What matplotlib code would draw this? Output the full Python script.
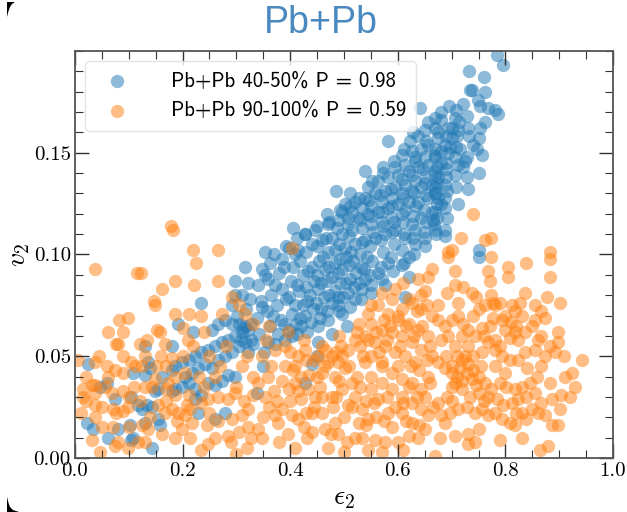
import numpy as np
import matplotlib
matplotlib.use("Agg")
import matplotlib.pyplot as plt
from matplotlib.patches import Polygon

plt.rcParams["mathtext.fontset"] = "cm"

# (epsilon_2, v_2) samples for the two centrality classes
blue_points = [
    # low-eccentricity tail
    (0.025, 0.046), (0.022, 0.017), (0.034, 0.014), (0.062, 0.010), (0.080, 0.014),
    (0.105, 0.009), (0.108, 0.010), (0.143, 0.005), (0.074, 0.029), (0.105, 0.030),
    (0.118, 0.026), (0.124, 0.024), (0.133, 0.026), (0.143, 0.025), (0.130, 0.017),
    (0.155, 0.019), (0.158, 0.016), (0.102, 0.016), (0.059, 0.037), (0.046, 0.035),
    (0.108, 0.042), (0.136, 0.047), (0.139, 0.044), (0.130, 0.041), (0.161, 0.040),
    (0.155, 0.034), (0.149, 0.033), (0.180, 0.033), (0.186, 0.034), (0.130, 0.055),
    (0.180, 0.055), (0.192, 0.066), (0.220, 0.062), (0.235, 0.076), (0.254, 0.063),
    (0.266, 0.066), (0.279, 0.068), (0.291, 0.075), (0.297, 0.080), (0.310, 0.080),
    (0.316, 0.094), (0.297, 0.087), (0.322, 0.086),
    (0.180, 0.043), (0.186, 0.045), (0.198, 0.047), (0.211, 0.048), (0.223, 0.050),
    (0.235, 0.052), (0.248, 0.053), (0.260, 0.055), (0.273, 0.057), (0.285, 0.058),
    (0.297, 0.060), (0.310, 0.062), (0.322, 0.063), (0.328, 0.066), (0.316, 0.065),
    (0.304, 0.066), (0.291, 0.066), (0.204, 0.040), (0.217, 0.042), (0.229, 0.044),
    (0.242, 0.046), (0.254, 0.044), (0.266, 0.048), (0.279, 0.050), (0.291, 0.052),
    (0.304, 0.055), (0.316, 0.057), (0.328, 0.058), (0.198, 0.035), (0.211, 0.037),
    (0.223, 0.034), (0.235, 0.031), (0.248, 0.037), (0.260, 0.036), (0.273, 0.038),
    (0.285, 0.041), (0.297, 0.040), (0.223, 0.029), (0.229, 0.022), (0.260, 0.019),
    (0.279, 0.022), (0.302, 0.070), (0.318, 0.073), (0.326, 0.078), (0.312, 0.064),
    (0.330, 0.056), (0.322, 0.052), (0.308, 0.058),
    # middle of the band
    (0.620, 0.089), (0.607, 0.095), (0.620, 0.099), (0.551, 0.081), (0.613, 0.079),
    (0.576, 0.085), (0.496, 0.071), (0.505, 0.065), (0.477, 0.061), (0.452, 0.057),
    (0.449, 0.050), (0.440, 0.046), (0.428, 0.037), (0.350, 0.045), (0.338, 0.032),
    (0.403, 0.060), (0.412, 0.061), (0.421, 0.065), (0.455, 0.069), (0.489, 0.075),
    (0.520, 0.078), (0.533, 0.083), (0.539, 0.088), (0.564, 0.091), (0.582, 0.096),
    (0.342, 0.061), (0.338, 0.069), (0.345, 0.077), (0.341, 0.085), (0.347, 0.093),
    (0.358, 0.057), (0.362, 0.065), (0.356, 0.072), (0.364, 0.080), (0.359, 0.088),
    (0.363, 0.096), (0.378, 0.061), (0.383, 0.068), (0.376, 0.075), (0.385, 0.083),
    (0.379, 0.091), (0.384, 0.098), (0.398, 0.063), (0.404, 0.071), (0.397, 0.079),
    (0.402, 0.087), (0.405, 0.094), (0.418, 0.069), (0.423, 0.075), (0.417, 0.082),
    (0.424, 0.090), (0.419, 0.097), (0.438, 0.067), (0.443, 0.073), (0.436, 0.080),
    (0.445, 0.087), (0.441, 0.094), (0.458, 0.073), (0.463, 0.079), (0.457, 0.086),
    (0.464, 0.093), (0.461, 0.099), (0.478, 0.076), (0.484, 0.082), (0.477, 0.089),
    (0.483, 0.096), (0.498, 0.079), (0.503, 0.086), (0.497, 0.093), (0.504, 0.099),
    (0.518, 0.084), (0.523, 0.091), (0.517, 0.097), (0.538, 0.093), (0.543, 0.099),
    # dense core of the band
    (0.351, 0.052), (0.348, 0.074), (0.353, 0.090),
    (0.372, 0.056), (0.368, 0.070), (0.371, 0.085), (0.369, 0.100),
    (0.391, 0.058), (0.388, 0.066), (0.392, 0.078), (0.389, 0.094), (0.393, 0.104),
    (0.411, 0.066), (0.408, 0.075), (0.412, 0.085), (0.409, 0.100), (0.413, 0.108),
    (0.431, 0.062), (0.428, 0.070), (0.432, 0.077), (0.429, 0.084), (0.433, 0.092),
    (0.430, 0.101), (0.427, 0.110),
    (0.451, 0.065), (0.448, 0.076), (0.452, 0.083), (0.449, 0.090), (0.453, 0.097),
    (0.450, 0.104), (0.447, 0.112),
    (0.471, 0.068), (0.468, 0.072), (0.472, 0.080), (0.469, 0.087), (0.473, 0.094),
    (0.470, 0.101), (0.467, 0.108), (0.472, 0.116),
    (0.491, 0.072), (0.488, 0.079), (0.492, 0.086), (0.489, 0.091), (0.493, 0.098),
    (0.490, 0.105), (0.487, 0.113), (0.492, 0.122),
    (0.511, 0.074), (0.508, 0.081), (0.512, 0.088), (0.509, 0.095), (0.513, 0.101),
    (0.510, 0.109), (0.507, 0.115), (0.512, 0.124),
    (0.531, 0.078), (0.528, 0.086), (0.532, 0.094), (0.529, 0.100), (0.533, 0.106),
    (0.530, 0.117), (0.527, 0.128),
    (0.551, 0.085), (0.548, 0.090), (0.552, 0.097), (0.549, 0.104), (0.553, 0.111),
    (0.550, 0.119), (0.547, 0.127), (0.552, 0.136),
    (0.571, 0.088), (0.568, 0.094), (0.572, 0.101), (0.569, 0.107), (0.573, 0.114),
    (0.570, 0.121), (0.567, 0.129), (0.572, 0.140),
    (0.591, 0.092), (0.588, 0.099), (0.592, 0.105), (0.589, 0.111), (0.593, 0.116),
    (0.590, 0.124), (0.587, 0.132), (0.592, 0.146),
    (0.611, 0.096), (0.608, 0.102), (0.612, 0.110), (0.609, 0.116), (0.613, 0.122),
    (0.610, 0.128), (0.607, 0.137), (0.612, 0.152),
    (0.631, 0.100), (0.628, 0.108), (0.632, 0.112), (0.629, 0.119), (0.633, 0.124),
    (0.630, 0.130), (0.627, 0.139), (0.632, 0.148), (0.629, 0.160),
    (0.651, 0.104), (0.648, 0.111), (0.652, 0.116), (0.649, 0.122), (0.653, 0.129),
    (0.650, 0.135), (0.647, 0.142), (0.652, 0.156),
    (0.671, 0.110), (0.668, 0.115), (0.672, 0.125), (0.669, 0.133), (0.673, 0.143),
    (0.670, 0.152),
    (0.691, 0.118), (0.688, 0.123), (0.692, 0.131), (0.689, 0.138), (0.693, 0.150),
    (0.690, 0.158),
    (0.711, 0.125), (0.708, 0.133), (0.712, 0.144), (0.709, 0.153), (0.713, 0.165),
    (0.731, 0.132), (0.728, 0.148), (0.732, 0.158), (0.729, 0.168),
    (0.751, 0.140), (0.748, 0.152), (0.752, 0.162), (0.749, 0.176),
    # upper band
    (0.641, 0.172), (0.657, 0.165), (0.669, 0.162), (0.582, 0.156), (0.623, 0.156),
    (0.638, 0.158), (0.651, 0.161), (0.607, 0.149), (0.626, 0.151), (0.644, 0.152),
    (0.657, 0.154), (0.539, 0.141), (0.573, 0.143), (0.595, 0.143), (0.613, 0.144),
    (0.632, 0.146), (0.651, 0.148), (0.669, 0.149), (0.486, 0.131), (0.511, 0.130),
    (0.545, 0.133), (0.564, 0.136), (0.582, 0.138), (0.601, 0.139), (0.620, 0.141),
    (0.638, 0.143), (0.657, 0.144), (0.502, 0.125), (0.520, 0.126), (0.539, 0.128),
    (0.558, 0.130), (0.576, 0.131), (0.595, 0.133), (0.613, 0.134), (0.632, 0.136),
    (0.651, 0.138), (0.669, 0.139), (0.468, 0.120), (0.496, 0.121), (0.514, 0.121),
    (0.533, 0.123), (0.551, 0.124), (0.570, 0.126), (0.589, 0.128), (0.607, 0.130),
    (0.626, 0.131), (0.644, 0.133), (0.663, 0.134), (0.406, 0.113), (0.428, 0.110),
    (0.449, 0.114), (0.471, 0.115), (0.489, 0.117), (0.508, 0.118), (0.527, 0.118),
    (0.545, 0.120), (0.564, 0.121), (0.582, 0.123), (0.601, 0.125), (0.620, 0.126),
    (0.638, 0.126), (0.657, 0.128), (0.669, 0.130), (0.397, 0.103), (0.415, 0.102),
    (0.440, 0.105), (0.459, 0.107), (0.477, 0.108), (0.496, 0.110), (0.514, 0.112),
    (0.533, 0.113), (0.551, 0.115), (0.570, 0.116), (0.589, 0.118), (0.607, 0.120),
    (0.626, 0.115), (0.644, 0.118), (0.663, 0.121), (0.669, 0.112), (0.651, 0.108),
    (0.632, 0.105), (0.613, 0.108), (0.595, 0.112), (0.576, 0.110), (0.558, 0.108),
    (0.539, 0.107), (0.520, 0.105), (0.502, 0.103), (0.483, 0.102), (0.353, 0.101),
    # high-eccentricity end
    (0.784, 0.198), (0.796, 0.193), (0.733, 0.190), (0.760, 0.187), (0.734, 0.181),
    (0.738, 0.181), (0.762, 0.180), (0.695, 0.173), (0.722, 0.174), (0.753, 0.173),
    (0.768, 0.172), (0.781, 0.171), (0.787, 0.169), (0.762, 0.165), (0.709, 0.171),
    (0.706, 0.167), (0.681, 0.166), (0.669, 0.167), (0.694, 0.162), (0.731, 0.162),
    (0.712, 0.161), (0.750, 0.157), (0.740, 0.154), (0.715, 0.152), (0.756, 0.149),
    (0.700, 0.157), (0.688, 0.154), (0.675, 0.157), (0.681, 0.151), (0.669, 0.148),
    (0.725, 0.146), (0.722, 0.143), (0.706, 0.139), (0.728, 0.138), (0.681, 0.145),
    (0.675, 0.138), (0.688, 0.134), (0.669, 0.130), (0.688, 0.128), (0.675, 0.128),
    (0.672, 0.118), (0.688, 0.112), (0.688, 0.109), (0.750, 0.102), (0.669, 0.141),
    (0.697, 0.153), (0.706, 0.148), (0.675, 0.160), (0.690, 0.145), (0.700, 0.162),
    (0.680, 0.170), (0.672, 0.135), (0.680, 0.125), (0.690, 0.142), (0.710, 0.158),
    (0.670, 0.121), (0.665, 0.117), (0.750, 0.099),
]

orange_points = [
    # small eccentricity
    (0.037, 0.093), (0.115, 0.091), (0.123, 0.091), (0.224, 0.096), (0.186, 0.087),
    (0.162, 0.083), (0.221, 0.085), (0.265, 0.087), (0.146, 0.077), (0.148, 0.075),
    (0.185, 0.071), (0.211, 0.071), (0.235, 0.070), (0.082, 0.068), (0.099, 0.069),
    (0.062, 0.062), (0.090, 0.062), (0.077, 0.056), (0.080, 0.056), (0.121, 0.056),
    (0.152, 0.063), (0.158, 0.062), (0.201, 0.064), (0.240, 0.062), (0.291, 0.079),
    (0.273, 0.071), (0.133, 0.058), (0.167, 0.056), (0.180, 0.049), (0.006, 0.048),
    (0.037, 0.047), (0.105, 0.047), (0.112, 0.045), (0.124, 0.045), (0.074, 0.043),
    (0.090, 0.042), (0.062, 0.040), (0.031, 0.036), (0.037, 0.036), (0.056, 0.035),
    (0.037, 0.032), (0.068, 0.032), (0.090, 0.033), (0.143, 0.035), (0.149, 0.039),
    (0.173, 0.037), (0.186, 0.040), (0.204, 0.042), (0.071, 0.024), (0.077, 0.022),
    (0.090, 0.023), (0.099, 0.025), (0.037, 0.026), (0.037, 0.020), (0.155, 0.026),
    (0.167, 0.022), (0.180, 0.024), (0.192, 0.022), (0.208, 0.026), (0.214, 0.024),
    (0.204, 0.021), (0.124, 0.016), (0.136, 0.014), (0.161, 0.012), (0.031, 0.009),
    (0.046, 0.003), (0.074, 0.006), (0.080, 0.008), (0.099, 0.005), (0.118, 0.008),
    (0.130, 0.008), (0.186, 0.010), (0.214, 0.010), (0.235, 0.004), (0.248, 0.007),
    (0.260, 0.010), (0.285, 0.011), (0.304, 0.013), (0.322, 0.015), (0.328, 0.010),
    (0.217, 0.017), (0.198, 0.014), (0.245, 0.016), (0.266, 0.018), (0.291, 0.019),
    (0.310, 0.021), (0.322, 0.024), (0.331, 0.031), (0.285, 0.029), (0.297, 0.032),
    (0.266, 0.030), (0.248, 0.029), (0.235, 0.027), (0.211, 0.031), (0.186, 0.031),
    (0.170, 0.034), (0.304, 0.075), (0.316, 0.071), (0.100, 0.030), (0.120, 0.028),
    (0.130, 0.035), (0.060, 0.045), (0.045, 0.050), (0.020, 0.040), (0.015, 0.030),
    (0.050, 0.015), (0.100, 0.015), (0.140, 0.020), (0.170, 0.045), (0.200, 0.050),
    (0.220, 0.055), (0.250, 0.050), (0.160, 0.050), (0.260, 0.040), (0.015, 0.034),
    (0.020, 0.028), (0.012, 0.022), (0.178, 0.114), (0.183, 0.112), (0.220, 0.102),
    (0.265, 0.102), (0.310, 0.045), (0.320, 0.050), (0.330, 0.040), (0.300, 0.035),
    (0.315, 0.028), (0.320, 0.005), (0.300, 0.002),
    (0.250, 0.022), (0.270, 0.045), (0.290, 0.008), (0.230, 0.040), (0.210, 0.058),
    (0.190, 0.018), (0.170, 0.028), (0.150, 0.045), (0.130, 0.050), (0.110, 0.035),
    (0.090, 0.050), (0.070, 0.015), (0.050, 0.025), (0.280, 0.055), (0.240, 0.035),
    # central region
    (0.403, 0.103), (0.347, 0.050), (0.359, 0.040), (0.353, 0.030), (0.341, 0.014),
    (0.347, 0.010), (0.372, 0.021), (0.384, 0.024), (0.378, 0.017), (0.403, 0.021),
    (0.415, 0.019), (0.397, 0.034), (0.409, 0.037), (0.421, 0.029), (0.434, 0.034),
    (0.446, 0.030), (0.440, 0.022), (0.459, 0.022), (0.465, 0.014), (0.483, 0.017),
    (0.489, 0.012), (0.431, 0.010), (0.409, 0.005), (0.452, 0.050), (0.465, 0.053),
    (0.477, 0.050), (0.489, 0.047), (0.483, 0.040), (0.502, 0.044), (0.514, 0.037),
    (0.496, 0.034), (0.520, 0.030), (0.508, 0.026), (0.533, 0.024), (0.527, 0.017),
    (0.545, 0.019), (0.533, 0.010), (0.558, 0.009), (0.576, 0.008), (0.601, 0.008),
    (0.620, 0.011), (0.638, 0.010), (0.651, 0.014), (0.626, 0.017), (0.607, 0.022),
    (0.582, 0.022), (0.564, 0.029), (0.551, 0.034), (0.570, 0.037), (0.589, 0.034),
    (0.607, 0.030), (0.626, 0.027), (0.644, 0.024), (0.657, 0.021), (0.539, 0.047),
    (0.551, 0.050), (0.570, 0.045), (0.589, 0.042), (0.607, 0.039), (0.626, 0.037),
    (0.644, 0.034), (0.657, 0.040), (0.663, 0.050), (0.632, 0.047), (0.613, 0.050),
    (0.595, 0.052), (0.576, 0.055), (0.558, 0.057), (0.539, 0.060), (0.527, 0.066),
    (0.545, 0.071), (0.564, 0.075), (0.582, 0.071), (0.601, 0.068), (0.620, 0.066),
    (0.638, 0.063), (0.657, 0.060), (0.663, 0.070), (0.644, 0.073), (0.626, 0.076),
    (0.607, 0.073), (0.589, 0.078), (0.570, 0.081), (0.595, 0.083), (0.638, 0.088),
    (0.657, 0.089), (0.663, 0.093), (0.644, 0.080), (0.520, 0.058), (0.508, 0.053),
    (0.496, 0.050), (0.477, 0.030), (0.459, 0.042), (0.372, 0.053), (0.390, 0.055),
    (0.415, 0.050), (0.409, 0.045), (0.428, 0.053), (0.607, 0.060), (0.589, 0.062),
    (0.551, 0.066), (0.570, 0.063), (0.626, 0.057), (0.644, 0.053),
    (0.360, 0.025), (0.370, 0.033), (0.390, 0.045), (0.400, 0.028), (0.420, 0.040),
    (0.430, 0.022), (0.450, 0.040), (0.460, 0.030), (0.470, 0.047), (0.480, 0.025),
    (0.490, 0.038), (0.500, 0.020), (0.510, 0.045), (0.520, 0.010), (0.530, 0.035),
    (0.540, 0.028), (0.550, 0.040), (0.560, 0.020), (0.570, 0.047), (0.580, 0.030),
    (0.590, 0.015), (0.600, 0.045), (0.610, 0.027), (0.620, 0.035), (0.630, 0.060),
    (0.640, 0.043), (0.650, 0.030), (0.660, 0.055), (0.350, 0.020), (0.380, 0.008),
    (0.440, 0.013), (0.470, 0.005), (0.500, 0.003), (0.540, 0.016), (0.570, 0.003),
    (0.610, 0.004), (0.640, 0.016), (0.660, 0.037), (0.530, 0.055), (0.560, 0.062),
    (0.580, 0.058), (0.600, 0.070), (0.620, 0.078), (0.650, 0.082), (0.610, 0.086),
    (0.550, 0.075), (0.490, 0.060), (0.460, 0.055), (0.430, 0.048), (0.400, 0.052),
    (0.340, 0.037), (0.355, 0.058), (0.365, 0.045), (0.375, 0.028), (0.385, 0.038),
    (0.395, 0.012), (0.405, 0.043), (0.415, 0.033), (0.425, 0.015), (0.435, 0.041),
    (0.445, 0.025), (0.455, 0.035), (0.465, 0.045), (0.475, 0.012), (0.485, 0.030),
    (0.495, 0.055), (0.505, 0.008), (0.515, 0.025), (0.525, 0.040), (0.535, 0.050),
    (0.545, 0.004), (0.555, 0.027), (0.565, 0.052), (0.575, 0.018), (0.585, 0.065),
    (0.595, 0.025), (0.605, 0.055), (0.615, 0.018), (0.625, 0.045), (0.635, 0.030),
    (0.645, 0.065), (0.655, 0.048), (0.665, 0.025), (0.525, 0.062), (0.545, 0.058),
    (0.575, 0.068), (0.615, 0.065), (0.635, 0.072), (0.655, 0.075), (0.485, 0.052),
    (0.445, 0.048), (0.425, 0.058), (0.395, 0.062), (0.360, 0.065), (0.330, 0.066),
    # large eccentricity
    (0.739, 0.120), (0.717, 0.108), (0.762, 0.107), (0.773, 0.108), (0.694, 0.101),
    (0.700, 0.102), (0.883, 0.101), (0.774, 0.099),
    (0.694, 0.099), (0.706, 0.092), (0.768, 0.092), (0.771, 0.087), (0.805, 0.094),
    (0.805, 0.089), (0.839, 0.096), (0.883, 0.098), (0.883, 0.089), (0.675, 0.075),
    (0.691, 0.081), (0.706, 0.085), (0.722, 0.084), (0.712, 0.076), (0.737, 0.081),
    (0.746, 0.079), (0.750, 0.073), (0.762, 0.075), (0.774, 0.080), (0.777, 0.076),
    (0.790, 0.076), (0.812, 0.075), (0.818, 0.072), (0.827, 0.076), (0.836, 0.081),
    (0.830, 0.070), (0.855, 0.075), (0.867, 0.072), (0.877, 0.079), (0.873, 0.069),
    (0.901, 0.076), (0.675, 0.068), (0.688, 0.065), (0.700, 0.068), (0.712, 0.070),
    (0.722, 0.066), (0.731, 0.063), (0.743, 0.060), (0.756, 0.064), (0.771, 0.065),
    (0.777, 0.069), (0.793, 0.068), (0.799, 0.063), (0.808, 0.059), (0.818, 0.062),
    (0.824, 0.058), (0.836, 0.062), (0.849, 0.065), (0.855, 0.068), (0.867, 0.060),
    (0.883, 0.055), (0.898, 0.062), (0.898, 0.057), (0.892, 0.052), (0.908, 0.050),
    (0.873, 0.050), (0.855, 0.053), (0.836, 0.052), (0.824, 0.048), (0.808, 0.048),
    (0.793, 0.050), (0.781, 0.053), (0.768, 0.057), (0.756, 0.052), (0.740, 0.050),
    (0.725, 0.050), (0.706, 0.055), (0.694, 0.060), (0.675, 0.047), (0.688, 0.044),
    (0.700, 0.042), (0.715, 0.044), (0.728, 0.042), (0.737, 0.039), (0.750, 0.040),
    (0.762, 0.037), (0.774, 0.034), (0.790, 0.037), (0.802, 0.035), (0.818, 0.034),
    (0.830, 0.035), (0.846, 0.037), (0.858, 0.040), (0.867, 0.045), (0.883, 0.037),
    (0.911, 0.040), (0.923, 0.042), (0.942, 0.048), (0.929, 0.035), (0.920, 0.030),
    (0.904, 0.031), (0.886, 0.029), (0.867, 0.027), (0.855, 0.032), (0.839, 0.030),
    (0.824, 0.029), (0.812, 0.027), (0.796, 0.026), (0.784, 0.029), (0.768, 0.030),
    (0.750, 0.032), (0.734, 0.030), (0.719, 0.034), (0.706, 0.037), (0.691, 0.030),
    (0.675, 0.027), (0.681, 0.021), (0.697, 0.022), (0.712, 0.024), (0.728, 0.025),
    (0.743, 0.022), (0.756, 0.024), (0.768, 0.021), (0.781, 0.022), (0.793, 0.019),
    (0.808, 0.017), (0.818, 0.016), (0.830, 0.022), (0.839, 0.019), (0.849, 0.024),
    (0.861, 0.022), (0.873, 0.021), (0.886, 0.016), (0.901, 0.024), (0.898, 0.016),
    (0.678, 0.010), (0.706, 0.011), (0.731, 0.012), (0.743, 0.008), (0.750, 0.014),
    (0.731, 0.007), (0.790, 0.009), (0.830, 0.010), (0.864, 0.004), (0.880, 0.006),
    (0.669, 0.001), (0.688, 0.017), (0.700, 0.045), (0.710, 0.040), (0.720, 0.038),
    (0.730, 0.046), (0.740, 0.043), (0.720, 0.048), (0.700, 0.035), (0.745, 0.036),
    (0.755, 0.045), (0.690, 0.050), (0.710, 0.050), (0.730, 0.055), (0.760, 0.060),
    (0.780, 0.058), (0.790, 0.055), (0.800, 0.070), (0.780, 0.075), (0.810, 0.067),
    (0.820, 0.065), (0.720, 0.060), (0.760, 0.028), (0.800, 0.042), (0.840, 0.044),
    (0.860, 0.058), (0.780, 0.045), (0.820, 0.022), (0.740, 0.070), (0.700, 0.028),
    (0.680, 0.058),
]

blue_label = "Pb+Pb 40-50% P = 0.98"
orange_label = "Pb+Pb 90-100% P = 0.59"
x_ticks = [0.0, 0.2, 0.4, 0.6, 0.8, 1.0]
x_tick_labels = ["0.0", "0.2", "0.4", "0.6", "0.8", "1.0"]
y_ticks = [0.00, 0.05, 0.10, 0.15]
y_tick_labels = ["0.00", "0.05", "0.10", "0.15"]

blue = np.array(blue_points)
orange = np.array(orange_points)

fig = plt.figure(figsize=(6.27, 5.12), dpi=100)
ax = fig.add_axes([0.1196, 0.1055, 0.8581, 0.7949])

ax.scatter(blue[:, 0], blue[:, 1], s=92, color="#1f77b4", alpha=0.5,
           linewidths=0, label=blue_label)
ax.scatter(orange[:, 0], orange[:, 1], s=92, color="#ff7f0e", alpha=0.5,
           linewidths=0, label=orange_label)

ax.set_xlim(0, 1.0)
ax.set_ylim(0, 0.2)
ax.set_xticks(x_ticks)
ax.set_xticklabels(x_tick_labels, family="cmr10", fontsize=15)
ax.set_yticks(y_ticks)
ax.set_yticklabels(y_tick_labels, family="cmr10", fontsize=15)
ax.set_xticks(np.arange(0, 1.0001, 0.05), minor=True)
ax.set_yticks(np.arange(0, 0.2001, 0.01), minor=True)
ax.tick_params(which="both", direction="in", top=True, right=True, color="#333333")
ax.tick_params(which="major", length=10, width=1.0, pad=3)
ax.tick_params(which="minor", length=6, width=0.8)
for sp in ax.spines.values():
    sp.set_color("#555555")
    sp.set_linewidth(1.3)

ax.set_xlabel(r"$\epsilon_2$", fontsize=20, labelpad=2)
ax.set_ylabel(r"$v_2$", fontsize=20, labelpad=1)

leg = ax.legend(loc="upper left", prop={"family": ["cmss10", "DejaVu Sans"], "size": 15},
                handletextpad=1.6, labelspacing=0.5, borderpad=0.5,
                framealpha=0.8, edgecolor="#dddddd", fancybox=True)

fig.text(0.512, 0.955, "Pb+Pb", ha="center", va="center", fontsize=27,
         color="#4a89c0", family="Liberation Sans")

# dark window corners along the left edge
W, H = 627.0, 512.0
top_corner = [(7, 2), (15, 2), (12, 4), (10, 7), (8.5, 11), (7, 17)]
bottom_corner = [(7, 497), (8.5, 503), (10, 507), (13, 510), (19, 512), (7, 512)]
for pts in (top_corner, bottom_corner):
    fig.patches.append(Polygon([(px / W, 1 - py / H) for px, py in pts], closed=True,
                               transform=fig.transFigure, facecolor="black",
                               edgecolor="none"))

fig.savefig("out.png", dpi=100)
